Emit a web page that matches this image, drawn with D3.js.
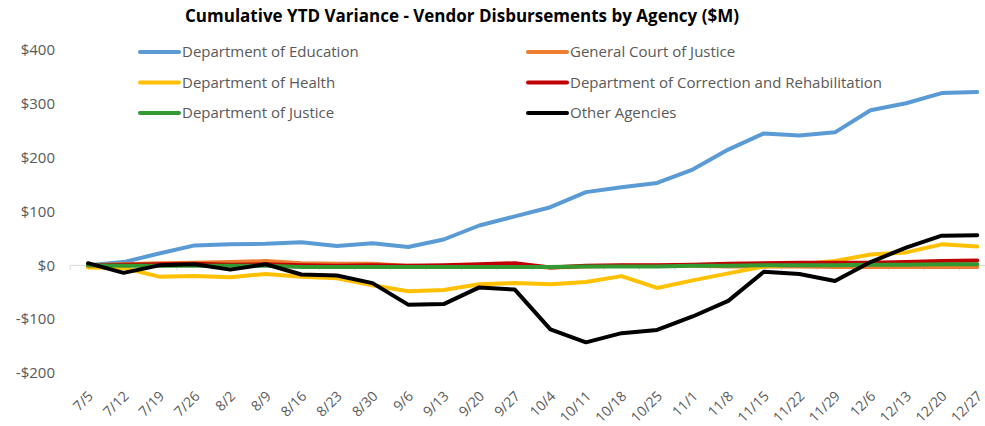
<!DOCTYPE html>
<html>
<head>
<meta charset="utf-8">
<script src="https://cdn.jsdelivr.net/npm/d3@7"></script>
<style>
  body { margin: 0; background: #fff; }
  svg text { font-family: "Open Sans", "Liberation Sans", sans-serif; }
</style>
</head>
<body>
<div id="chart"></div>
<script>
var width = 985, height = 426

// week labels
var weeks = ['7/5','7/12','7/19','7/26','8/2','8/9','8/16','8/23','8/30','9/6','9/13','9/20','9/27',
  '10/4','10/11','10/18','10/25','11/1','11/8','11/15','11/22','11/29','12/6','12/13','12/20','12/27']

var yTicks = [-200, -100, 0, 100, 200, 300, 400]

// series values ($M)
var education  = [0, 6, 22, 37, 39, 40, 43, 36, 41, 34, 48, 74, 91, 108, 136, 145, 153, 178, 215, 245, 241, 247, 288, 301, 320, 322]
var genCourt   = [0, 2, 4, 5, 6, 8, 4, 3, 3, -1, -2, -1, -1, -4, -2, -1, -1, -1, -2, -2, -2, -3, -3, -3, -3, -3]
var health     = [-4, -5, -21, -20, -22, -16, -21, -24, -37, -48, -46, -35, -33, -35, -31, -20, -42, -28, -15, -2, 2, 8, 20, 24, 39, 35]
var correction = [0, 1, 2, 3, 1, 2, 0, -1, 0, -1, 0, 2, 4, -4, -1, 0, 0, 1, 3, 4, 5, 5, 5, 6, 8, 9]
var justice    = [0, -1, -1, -1, -1, -1, -3, -3, -3, -3, -3, -3, -3, -3, -2, -2, -2, -1, -1, 0, 0, 0, 1, 1, 2, 2]
var other      = [4, -14, 0, 2, -8, 2, -17, -19, -33, -73, -72, -41, -45, -119, -143, -126, -120, -95, -66, -12, -16, -29, 6, 33, 55, 56]

var seriesNames = ['Department of Education', 'General Court of Justice', 'Department of Health',
  'Department of Correction and Rehabilitation', 'Department of Justice', 'Other Agencies']
var seriesColors = ['#5b9bd5', '#ed7d31', '#ffc000', '#c00000', '#339933', '#000000']
var seriesValues = [education, genCourt, health, correction, justice, other]

var series = seriesNames.map((n, i) => ({ name: n, color: seriesColors[i], values: seriesValues[i] }))

var svg = d3.select('#chart')
  .append('svg')
  .attr('width', width)
  .attr('height', height)

var xScale = d3.scaleBand()
  .domain(weeks)
  .range([70.2, 70.2 + 26 * 35.57])
  .padding(0)

var cx = d => xScale(d) + xScale.bandwidth() / 2

var yScale = d3.scaleLinear()
  .domain([-200, 400])
  .range([373, 50])

// Title
svg.append('text')
  .attr('x', 462)
  .attr('y', 22)
  .attr('text-anchor', 'middle')
  .attr('font-size', '17px')
  .attr('font-weight', 'bold')
  .attr('fill', '#000')
  .text('Cumulative YTD Variance - Vendor Disbursements by Agency ($M)')

// Y axis labels
var yAxis = d3.axisLeft(yScale)
  .tickValues(yTicks)
  .tickSize(0)
  .tickPadding(0)
  .tickFormat(d => (d < 0 ? '-$' : '$') + Math.abs(d))

svg.append('g')
  .attr('transform', 'translate(55,0)')
  .call(yAxis)
  .call(g => g.select('.domain').remove())
  .selectAll('text')
  .attr('fill', '#595959')
  .attr('font-size', '15px')

// zero line + between-category ticks
var y0 = yScale(0)
svg.append('line')
  .attr('x1', xScale.range()[0]).attr('x2', xScale.range()[1])
  .attr('y1', y0).attr('y2', y0)
  .attr('stroke', '#d9d9d9')
  .attr('stroke-width', 1)

svg.selectAll('.tickmark')
  .data(weeks.concat(['end']))
  .enter()
  .append('line')
  .attr('class', 'tickmark')
  .attr('x1', (d, i) => xScale.range()[0] + i * xScale.bandwidth())
  .attr('x2', (d, i) => xScale.range()[0] + i * xScale.bandwidth())
  .attr('y1', y0)
  .attr('y2', y0 + 5)
  .attr('stroke', '#d9d9d9')

// X labels, rotated
svg.selectAll('.xlabel')
  .data(weeks)
  .enter()
  .append('text')
  .attr('class', 'xlabel')
  .attr('text-anchor', 'end')
  .attr('font-size', '14px')
  .attr('fill', '#595959')
  .attr('transform', d => `translate(${cx(d) + 6},${397}) rotate(-45)`)
  .text(d => d)

// Lines
var line = d3.line()
  .x((d, i) => cx(weeks[i]))
  .y(d => yScale(d))

svg.selectAll('.series')
  .data(series)
  .enter()
  .append('path')
  .attr('class', 'series')
  .attr('d', d => line(d.values))
  .attr('fill', 'none')
  .attr('stroke', d => d.color)
  .attr('stroke-width', 4)
  .attr('stroke-linejoin', 'round')
  .attr('stroke-linecap', 'round')

// Legend, two columns
var legend = svg.selectAll('.legend')
  .data(series)
  .enter()
  .append('g')
  .attr('class', 'legend')
  .attr('transform', (d, i) => `translate(${i % 2 === 0 ? 140 : 528},${52 + Math.floor(i / 2) * 30.5})`)

legend.append('line')
  .attr('x1', 0).attr('x2', 39)
  .attr('y1', 0).attr('y2', 0)
  .attr('stroke', d => d.color)
  .attr('stroke-width', 4)
  .attr('stroke-linecap', 'round')

legend.append('text')
  .attr('x', 42)
  .attr('y', 0)
  .attr('dy', '0.35em')
  .attr('font-size', '15px')
  .attr('fill', '#595959')
  .text(d => d.name)
</script>
</body>
</html>
